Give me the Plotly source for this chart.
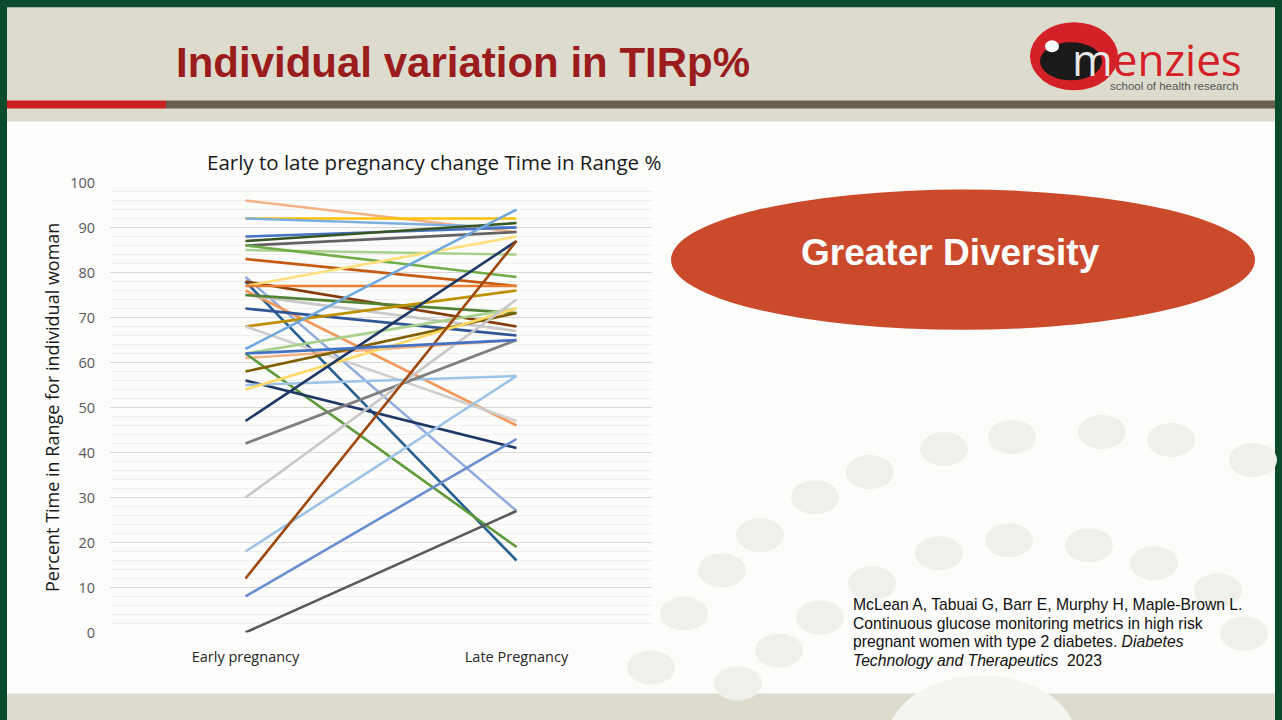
import plotly.graph_objects as go

# Page geometry as observed in the photographed window: page y maps to image y = C + S * page_y
S, C = 0.972, 10.8
W, H = 1282, 730

categories = ["Early pregnancy", "Late Pregnancy"]
early_values = [96, 92, 92, 88, 87, 86, 85, 86, 83, 79, 78, 78, 77, 77, 76, 75, 75, 72, 68, 68,
                63, 62, 61, 62, 58, 56, 55, 54, 47, 42, 30, 18, 12, 8, 0, 62]
late_values = [89, 92, 90, 90, 91, 89, 84, 79, 77, 27, 16, 68, 88, 77, 46, 67, 71, 66, 76, 47,
               94, 72, 65, 19, 71, 41, 57, 72, 87, 65, 74, 57, 87, 43, 27, 65]
line_colors = ["#F4B183", "#FFC000", "#7CAFDD", "#4472C4", "#375623", "#636363", "#A9D18E", "#70AD47",
               "#C55A11", "#8FAADC", "#255E91", "#843C0C", "#FFE07A", "#ED7D31", "#F1975A", "#C9C9C9",
               "#548235", "#2F5597", "#BF9000", "#D0CECE", "#6FA8DC", "#A9D18E", "#F4B183", "#5E9A3A",
               "#7F6000", "#1F3864", "#9DC3E6", "#FFD966", "#203864", "#7F7F7F", "#C8C8C8", "#9DC3E6",
               "#9E480E", "#698ED0", "#595959", "#4472C4"]
y_ticks = list(range(0, 101, 10))
citation_lines = [
    "McLean A, Tabuai G, Barr E, Murphy H, Maple-Brown L.",
    "Continuous glucose monitoring metrics in high risk",
    "pregnant women with type 2 diabetes. <i>Diabetes</i>",
    "<i>Technology and Therapeutics</i>  2023",
]

def px(x):
    return x / W

def py(y):
    return 1 - ((y - C) / S) / H

fig = go.Figure()
for i, (a, b) in enumerate(zip(early_values, late_values)):
    fig.add_trace(go.Scatter(x=categories, y=[a, b], mode="lines",
                             line=dict(color=line_colors[i % len(line_colors)], width=2.6),
                             showlegend=False, hoverinfo="skip"))

shapes = []
def rect(x0, y0, x1, y1, color):
    shapes.append(dict(type="rect", xref="paper", yref="paper", x0=px(x0), x1=px(x1),
                       y0=py(y1), y1=py(y0), fillcolor=color, line=dict(width=0), layer="below"))

def ell(cx, cy, rx, ry, color, layer="below"):
    shapes.append(dict(type="circle", xref="paper", yref="paper", x0=px(cx - rx), x1=px(cx + rx),
                       y0=py(cy + ry), y1=py(cy - ry), fillcolor=color, line=dict(width=0), layer=layer))

# frame
rect(0, 0, 1282, 740, "#0B4A2B")
rect(7, 8, 1275, 740, "#DCDBCD")
rect(7, 122, 1275, 693, "#FCFCFA")
rect(7, 101, 166, 109, "#C8201F")
rect(166, 101, 1275, 109, "#67604E")

# faint background dots
dots = [(944, 449), (1012, 437), (1102, 432), (1171, 440), (1253, 460), (870, 472), (815, 497),
        (760, 535), (722, 570), (684, 613), (1009, 540), (1089, 545), (1154, 563), (939, 553),
        (872, 583), (1218, 590), (820, 617), (779, 650), (1244, 633), (738, 683), (651, 667)]
for cx, cy in dots:
    ell(cx, cy, 24, 17, "#F0F0EB")
ell(982, 740, 95, 65, "#F4F4F0")

# logo
ell(1074, 57, 44, 34, "#D42027", layer="above")
ell(1071, 62, 31, 19, "#1A1A1A", layer="above")
ell(1052, 47, 7, 6, "#FFFFFF", layer="above")

# ellipse
ell(963, 260, 292, 70, "#CB4A2B", layer="above")

annotations = [
    dict(text="<b>Individual variation in TIRp%</b>", x=px(174), y=py(63), xanchor="left", yanchor="middle",
         font=dict(family="Liberation Sans, Arial", size=42, color="#9B1C1C")),
    dict(text="<span style='color:#E8E8E8'>m</span>enzies", x=px(1070), y=py(60), xanchor="left", yanchor="middle",
         font=dict(family="Open Sans, Arial", size=44, color="#D42027")),
    dict(text="school of health research", x=px(1108), y=py(87), xanchor="left", yanchor="middle",
         font=dict(family="Liberation Sans, Arial", size=11.5, color="#555555")),
    dict(text="<b>Greater Diversity</b>", x=px(950), y=py(253), xanchor="center", yanchor="middle",
         font=dict(family="Liberation Sans, Arial", size=37, color="#FFFFFF")),
    dict(text="Early to late pregnancy change Time in Range %", x=px(434), y=py(162), xanchor="center",
         yanchor="middle", font=dict(family="Open Sans", size=20.5, color="#1A1A1A")),
    dict(text="Percent Time in Range for individual woman", x=px(52), y=py(408), xanchor="center",
         yanchor="middle", textangle=-90, font=dict(family="Open Sans", size=18, color="#1A1A1A")),
]
for k, line in enumerate(citation_lines):
    annotations.append(dict(text=line, x=px(851), y=py(604 + k * 18.7), xanchor="left", yanchor="middle",
                            font=dict(family="Liberation Sans, Arial", size=15.7, color="#111111")))
for a in annotations:
    a.update(xref="paper", yref="paper", showarrow=False)

fig.update_layout(
    width=W, height=H, margin=dict(l=0, r=0, t=0, b=0),
    paper_bgcolor="#FCFCFA", plot_bgcolor="rgba(0,0,0,0)",
    shapes=shapes, annotations=annotations,
    xaxis=dict(domain=[px(110), px(652)], type="category", range=[-0.5, 1.5], showgrid=False,
               zeroline=False, showline=False, ticks="", ticklabelstandoff=14,
               tickfont=dict(family="Open Sans", size=14.5, color="#262626"), fixedrange=True),
    yaxis=dict(domain=[py(632), py(183)], range=[0, 100], tickvals=y_ticks, showgrid=True,
               gridcolor="#D9D9D9", gridwidth=1, zeroline=False, showline=False, ticks="",
               ticklabelstandoff=14, tickfont=dict(family="Open Sans", size=14.5, color="#595959"),
               minor=dict(dtick=2, showgrid=True, gridcolor="#EFEFEF", gridwidth=1), fixedrange=True),
)

fig.write_html("out.html", config={"displayModeBar": False},
               post_script="document.body.style.margin='0';document.body.style.overflow='hidden';"
                           "var d=document.getElementById('{plot_id}');d.style.position='fixed';"
                           "d.style.top='0px';d.style.left='0px';")
